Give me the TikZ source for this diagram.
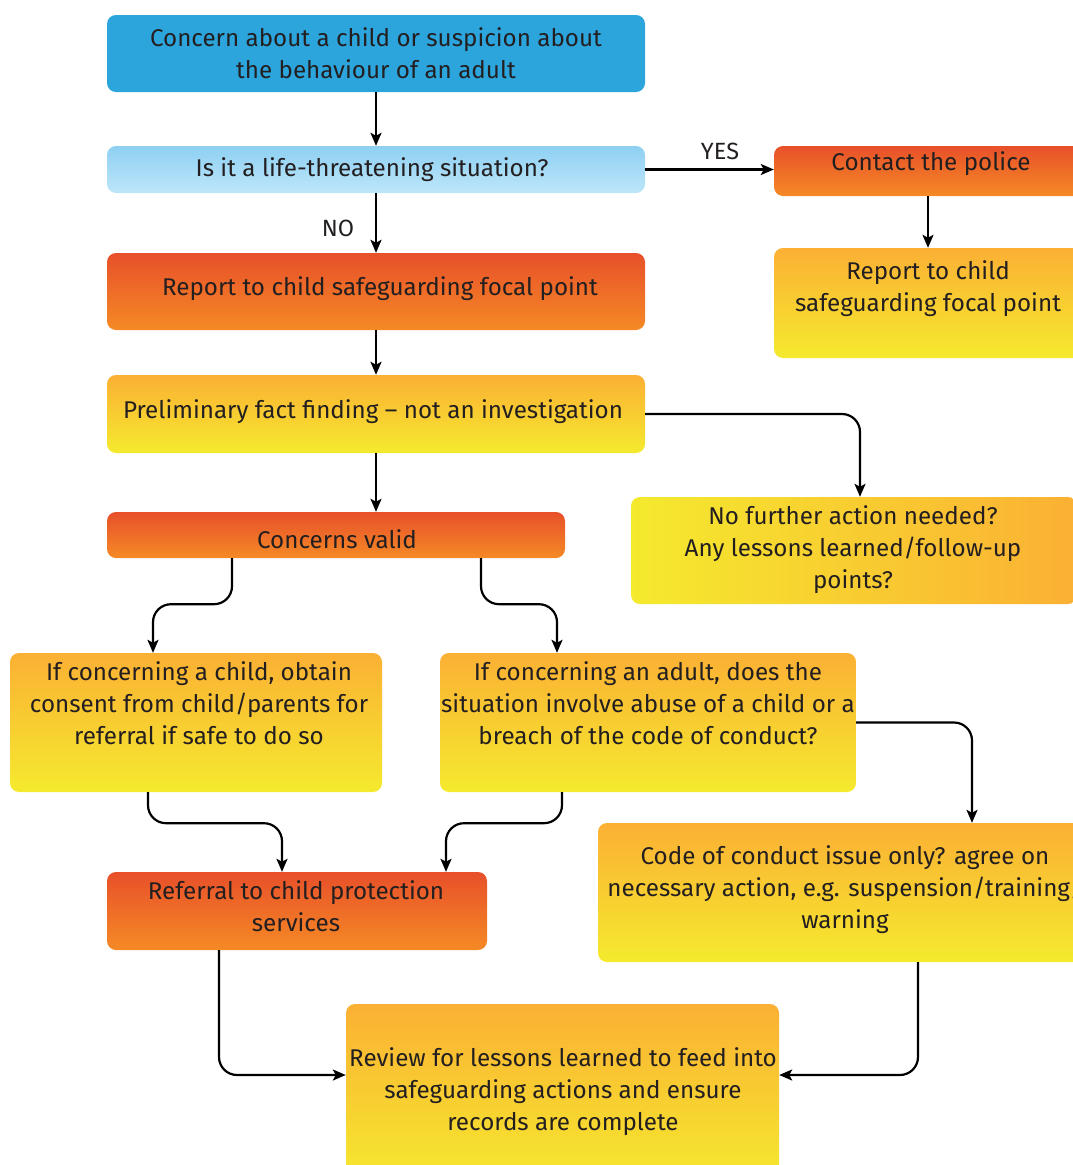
\documentclass[tikz,border=0pt]{standalone}
\usepackage{fontspec}
\setmainfont{Fira Sans}
\usetikzlibrary{arrows.meta}
\definecolor{tx}{HTML}{231F20}
\definecolor{blueA}{HTML}{2CA5DD}
\definecolor{lbTop}{HTML}{8ED0F2}
\definecolor{lbBot}{HTML}{BDE6FA}
\definecolor{redTop}{HTML}{E8502A}
\definecolor{redBot}{HTML}{F58A25}
\definecolor{yelTop}{HTML}{FBB034}
\definecolor{yelBot}{HTML}{F5EA2E}
\tikzset{
  box/.style={rectangle, rounded corners=9pt, inner sep=0pt, draw=none},
  redbox/.style={box, top color=redTop, bottom color=redBot},
  yelbox/.style={box, top color=yelTop, bottom color=yelBot},
  txt/.style={align=center, inner sep=0pt, text=tx, font=\fontsize{24.2}{32}\selectfont},
  arr/.style={draw=black, line width=2.2pt, -{Stealth[length=13pt,width=11pt,inset=3pt]}},
  lab/.style={inner sep=0pt, text=tx, font=\fontsize{23.5}{28}\selectfont}
}
\begin{document}
\begin{tikzpicture}[x=1pt,y=-1pt]
\useasboundingbox (0,0) rectangle (1073,1165);
\clip (0,0) rectangle (1073,1165);
% boxes
\node[box, fill=blueA, minimum width=538pt, minimum height=77pt] (b1) at (376,53.5) {};
\node[box, top color=lbTop, bottom color=lbBot, minimum width=538pt, minimum height=47pt] (b2) at (376,169.5) {};
\node[redbox, minimum width=538pt, minimum height=77pt] (b3) at (376,291.5) {};
\node[yelbox, minimum width=538pt, minimum height=78pt] (b4) at (376,414) {};
\node[redbox, minimum width=458pt, minimum height=46pt] (b5) at (336,535) {};
\node[yelbox, minimum width=372pt, minimum height=139pt] (b6) at (196,722.5) {};
\node[yelbox, minimum width=416pt, minimum height=139pt] (b7) at (648,722.5) {};
\node[redbox, minimum width=380pt, minimum height=78pt] (b8) at (297,911) {};
\node[yelbox, minimum width=433pt, minimum height=181pt] (b9) at (562.5,1094.5) {};
\node[redbox, minimum width=314pt, minimum height=50pt] (b10) at (931,171) {};
\node[yelbox, minimum width=310pt, minimum height=110pt] (b11) at (929,303) {};
\node[box, left color=yelBot, right color=yelTop, minimum width=446pt, minimum height=107pt] (b12) at (854,550.5) {};
\node[yelbox, minimum width=494pt, minimum height=139pt] (b13) at (845,892.5) {};
% texts
\node[txt] (t1) at (376,53) {Concern about a child or suspicion about\\the behaviour of an adult};
\node[txt] (t2) at (372,170) {Is it a life-threatening situation?};
\node[txt] (t3) at (380,289) {Report to child safeguarding focal point};
\node[txt] (t4) at (373,412) {Preliminary fact finding -- not an investigation};
\node[txt] (t5) at (337,539) {Concerns valid};
\node[txt] (t6) at (199,703) {If concerning a child, obtain\\consent from child/parents for\\referral if safe to do so};
\node[txt] (t7) at (648,703) {If concerning an adult, does the\\situation involve abuse of a child or a\\breach of the code of conduct?};
\node[txt] (t8) at (296,906) {Referral to child protection\\services};
\node[txt] (t9) at (563,1092) {Review for lessons learned to feed into\\safeguarding actions and ensure\\records are complete};
\node[txt] (t10) at (931,164) {Contact the police};
\node[txt] (t11) at (928,289) {Report to child\\safeguarding focal point};
\node[txt] (t12) at (853,550) {No further action needed?\\Any lessons learned/follow-up\\points?};
\node[txt] (t13) at (845,890) {Code of conduct issue only? agree on\\necessary action, e.g. suspension/training/\\warning};
\node[lab] (yes) at (720,151) {YES};
\node[lab] (no) at (338,228) {NO};
% connectors
\draw[arr] (b1.south) -- (b2.north);
\draw[arr] (b2.east) -- (b10.west |- b2.east);
\draw[arr] (b2.south) -- (b3.north);
\draw[arr] ([xshift=-3pt]b10.south) -- ([xshift=-3pt]b10.south |- b11.north);
\draw[arr] (b3.south) -- (b4.north);
\draw[arr, rounded corners=18pt] (b4.east) -| ([xshift=6pt]b12.north);
\draw[arr] (b4.south) -- (b4.south |- b5.north);
\draw[arr, rounded corners=18pt] ([xshift=-104pt]b5.south) -- ++(0,46) -| ([xshift=-43pt]b6.north);
\draw[arr, rounded corners=18pt] ([xshift=145pt]b5.south) -- ++(0,46) -| ([xshift=-91pt]b7.north);
\draw[arr, rounded corners=18pt] ([xshift=-48pt]b6.south) -- ++(0,31) -| ([xshift=-15pt]b8.north);
\draw[arr, rounded corners=18pt] ([xshift=-86pt]b7.south) -- ++(0,31) -| ([xshift=149pt]b8.north);
\draw[arr, rounded corners=18pt] (b7.east) -| ([xshift=127pt]b13.north);
\draw[arr, rounded corners=18pt] ([xshift=-78pt]b8.south) |- (b9.west |- 0,1075);
\draw[arr, rounded corners=18pt] ([xshift=73pt]b13.south) |- (b9.east |- 0,1075);
\end{tikzpicture}
\end{document}
